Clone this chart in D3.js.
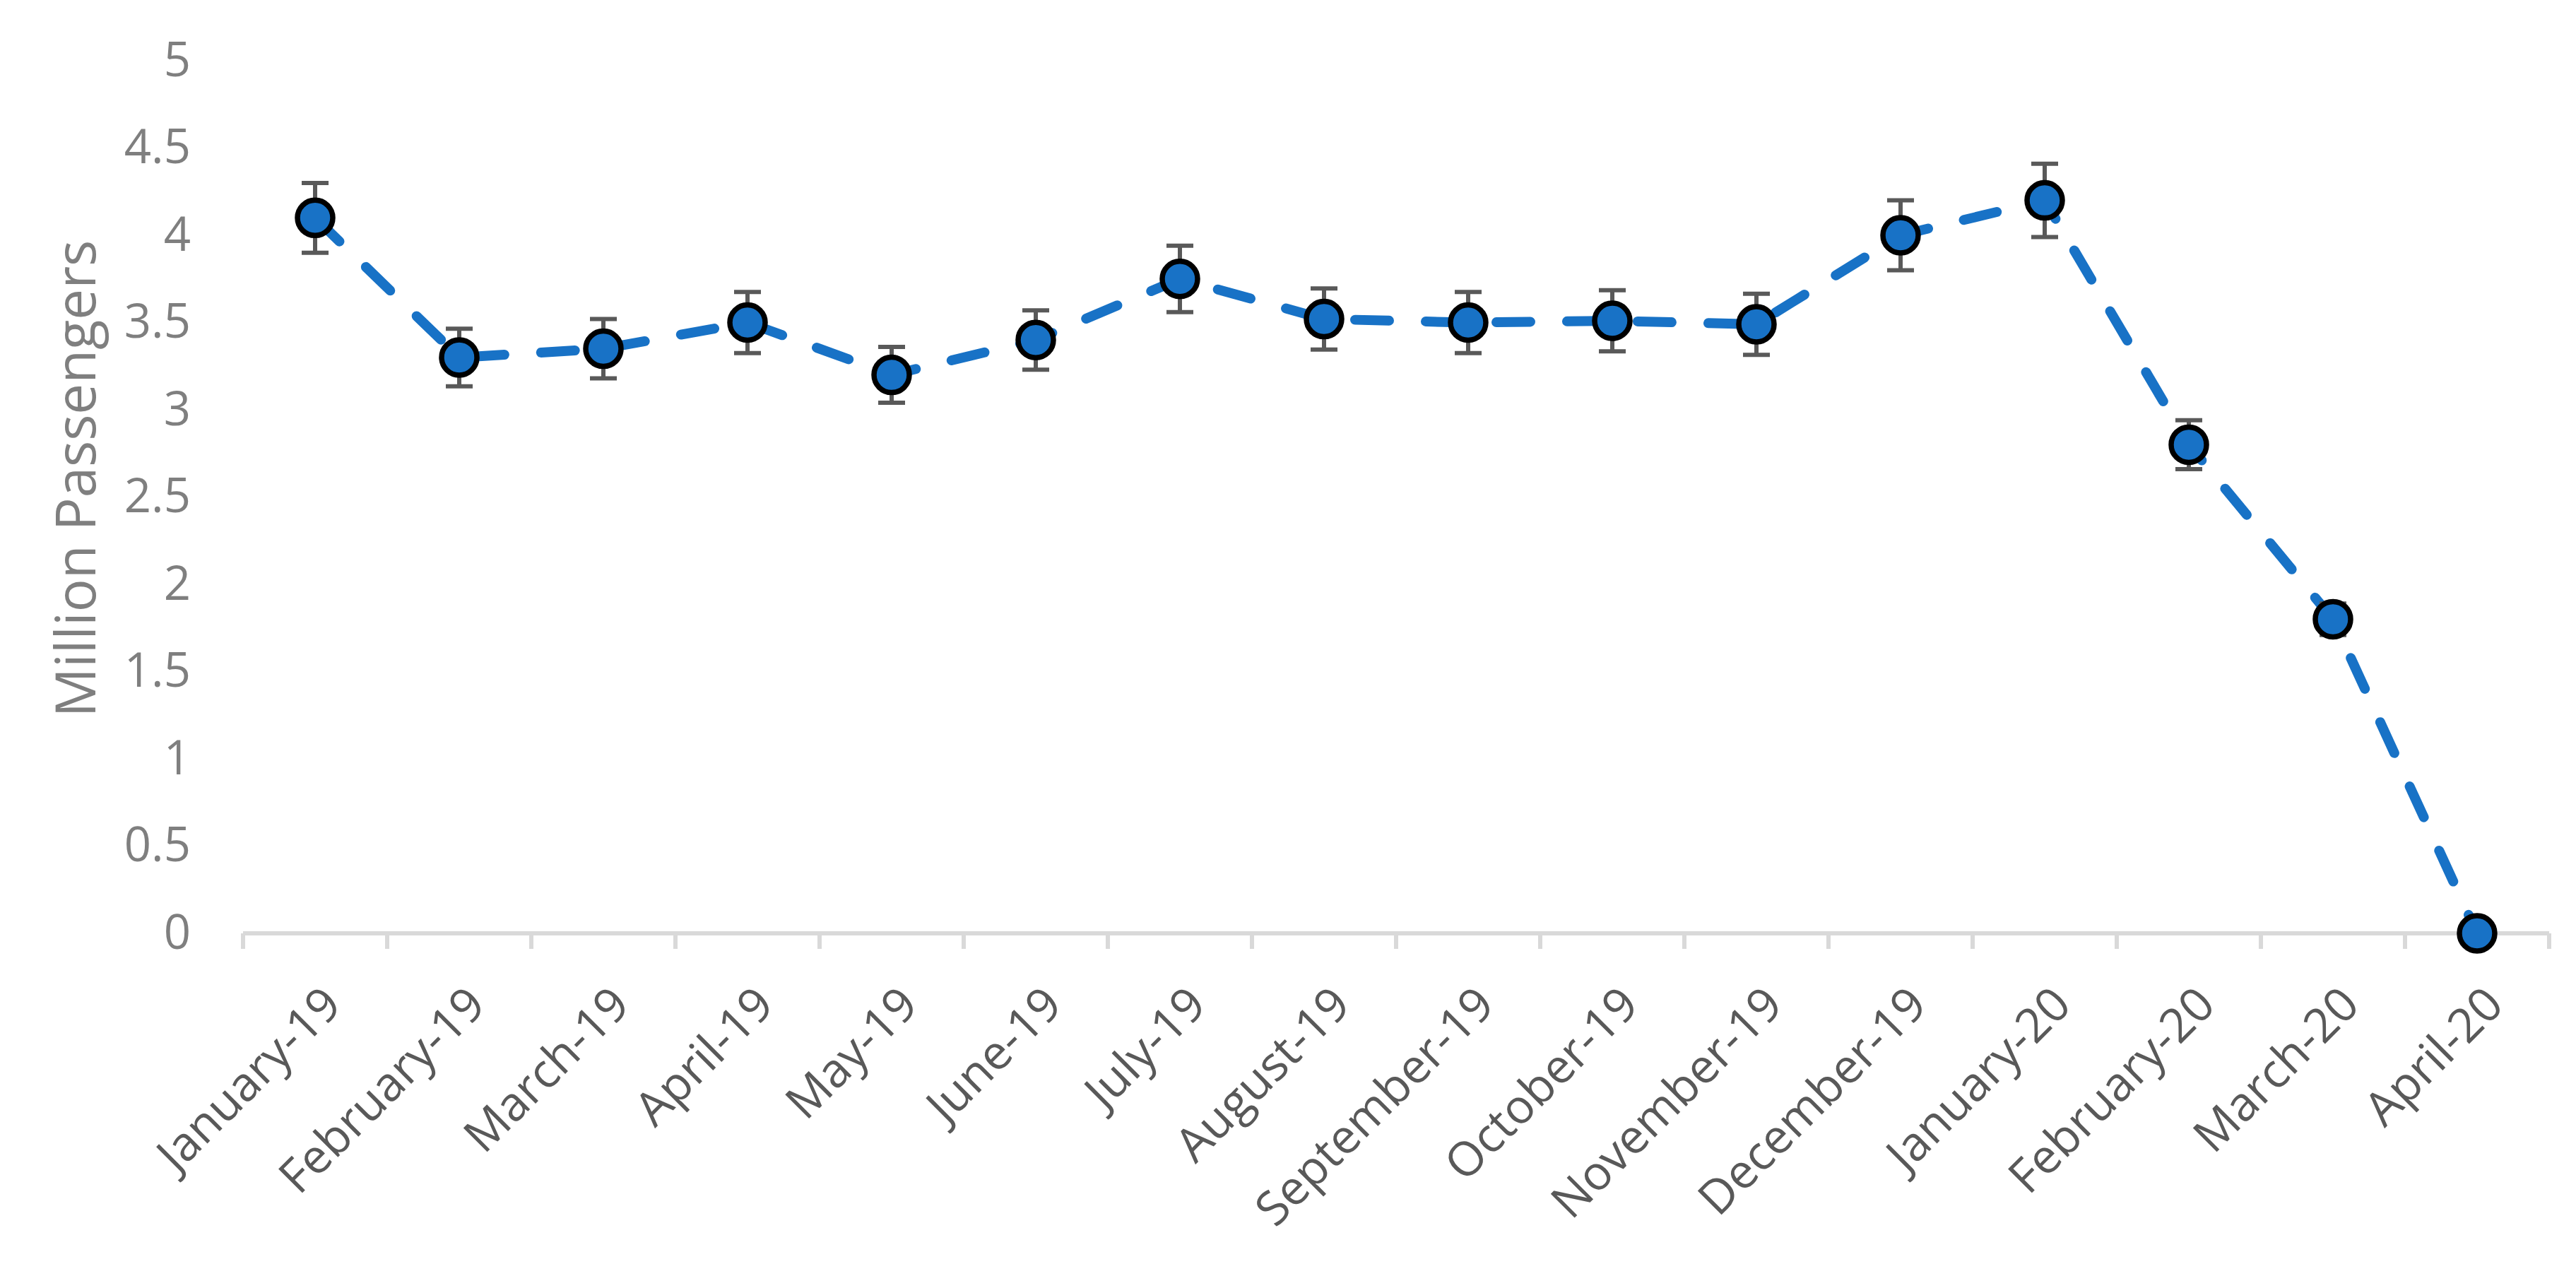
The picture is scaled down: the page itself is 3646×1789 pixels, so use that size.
<!DOCTYPE html>
<html>
<head>
<meta charset="utf-8">
<script src="https://cdn.jsdelivr.net/npm/d3@7"></script>
<style>
  html, body { margin: 0; padding: 0; background: #ffffff; }
  svg { display: block; }
</style>
</head>
<body>
<svg id="chart" width="3646" height="1789"></svg>
<script>
const categories = ["January-19","February-19","March-19","April-19","May-19","June-19","July-19","August-19","September-19","October-19","November-19","December-19","January-20","February-20","March-20","April-20"];
const passengers = [4.1, 3.3, 3.35, 3.5, 3.2, 3.4, 3.75, 3.52, 3.5, 3.51, 3.49, 4.0, 4.2, 2.8, 1.8, 0];
const errors = [0.2, 0.165, 0.17, 0.175, 0.16, 0.17, 0.19, 0.175, 0.175, 0.175, 0.175, 0.2, 0.21, 0.14, 0.09, 0];
const yTicks = [0, 0.5, 1, 1.5, 2, 2.5, 3, 3.5, 4, 4.5, 5];
const yTitle = "Million Passengers";

const svg = d3.select("#chart");
const W = 3646, H = 1789;
const m = { left: 344, right: 38, top: 86, bottom: 468 };
const x = d3.scaleBand().domain(categories).range([m.left, W - m.right]);
const y = d3.scaleLinear().domain([0, 5]).range([H - m.bottom, m.top]);
const cx = d => x(d) + x.bandwidth() / 2;

const FONT = "'Open Sans', 'Liberation Sans', sans-serif";

// Y axis (labels only)
const yAxis = d3.axisLeft(y).tickValues(yTicks).tickFormat(d3.format("")).tickSize(0).tickPadding(74);
const gy = svg.append("g").attr("transform", `translate(${m.left},0)`).call(yAxis);
gy.select(".domain").remove();
gy.selectAll("text").attr("font-family", FONT).attr("font-size", 67).attr("fill", "#7f7f7f");

// Y title
svg.append("text")
  .attr("transform", `translate(108, ${(y(0) + y(5)) / 2 - 26}) rotate(-90)`)
  .attr("text-anchor", "middle")
  .attr("dy", "0.35em")
  .attr("font-family", FONT).attr("font-size", 78).attr("fill", "#7f7f7f")
  .text(yTitle);

// X axis line and boundary ticks
const y0 = y(0);
const boundaries = categories.map(c => x(c)).concat([x.range()[1]]);
svg.append("line")
  .attr("x1", x.range()[0]).attr("x2", x.range()[1])
  .attr("y1", y0).attr("y2", y0)
  .attr("stroke", "#d9d9d9").attr("stroke-width", 6);
svg.selectAll(".xtick").data(boundaries).enter().append("line")
  .attr("class", "xtick")
  .attr("x1", d => d).attr("x2", d => d)
  .attr("y1", y0).attr("y2", y0 + 22)
  .attr("stroke", "#d9d9d9").attr("stroke-width", 6);

// X labels
svg.selectAll(".xlabel").data(categories).enter().append("text")
  .attr("class", "xlabel")
  .attr("transform", d => `translate(${cx(d) + 24}, ${y0 + 88}) rotate(-45)`)
  .attr("text-anchor", "end")
  .attr("dy", "0.35em")
  .attr("font-family", FONT).attr("font-size", 67).attr("fill", "#595959")
  .text(d => d);

const data = categories.map((c, i) => ({ c, v: passengers[i], e: errors[i] }));

// Line
const line = d3.line().x(d => cx(d.c)).y(d => y(d.v));
svg.append("path")
  .datum(data)
  .attr("d", line)
  .attr("fill", "none")
  .attr("stroke", "#1872c6")
  .attr("stroke-width", 14)
  .attr("stroke-linecap", "round")
  .attr("stroke-dasharray", "48 52");

// Error bars
const eb = svg.selectAll(".eb").data(data.filter(d => d.e > 0)).enter().append("g").attr("class", "eb")
  .attr("stroke", "#595959").attr("stroke-width", 6);
eb.append("line").attr("x1", d => cx(d.c)).attr("x2", d => cx(d.c))
  .attr("y1", d => y(d.v + d.e)).attr("y2", d => y(d.v - d.e));
eb.append("line").attr("x1", d => cx(d.c) - 19).attr("x2", d => cx(d.c) + 19)
  .attr("y1", d => y(d.v + d.e)).attr("y2", d => y(d.v + d.e));
eb.append("line").attr("x1", d => cx(d.c) - 19).attr("x2", d => cx(d.c) + 19)
  .attr("y1", d => y(d.v - d.e)).attr("y2", d => y(d.v - d.e));

// Markers
svg.selectAll(".pt").data(data).enter().append("circle")
  .attr("class", "pt")
  .attr("cx", d => cx(d.c)).attr("cy", d => y(d.v))
  .attr("r", 25)
  .attr("fill", "#1872c6")
  .attr("stroke", "#000000")
  .attr("stroke-width", 7.5);
</script>
</body>
</html>
